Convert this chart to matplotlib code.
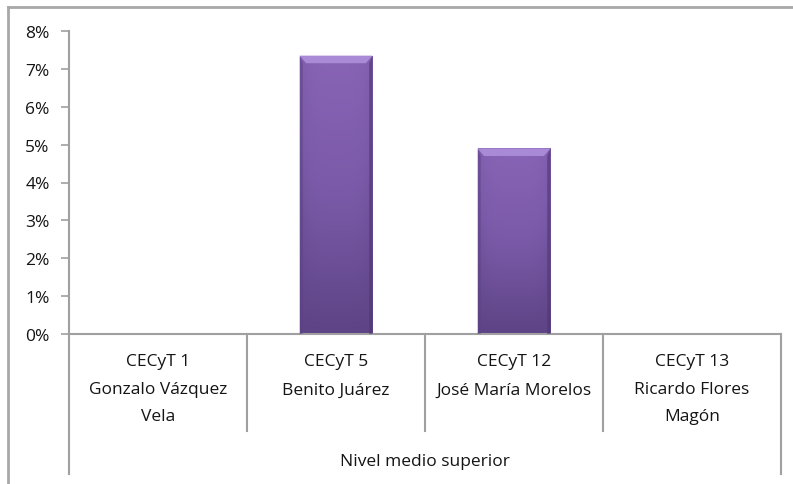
import numpy as np
import matplotlib.pyplot as plt
from matplotlib.colors import LinearSegmentedColormap
from matplotlib.lines import Line2D
from matplotlib.patches import Polygon
from matplotlib.ticker import FuncFormatter

plt.rcParams['font.family'] = ['Open Sans', 'DejaVu Sans']

# data
schools = ["CECyT 1\nGonzalo Vázquez\nVela",
           "CECyT 5\nBenito Juárez",
           "CECyT 12\nJosé María Morelos",
           "CECyT 13\nRicardo Flores\nMagón"]
values = [0.0, 7.35, 4.9, 0.0]
group_label = "Nivel medio superior"
y_ticks = [0, 1, 2, 3, 4, 5, 6, 7, 8]

axis_gray = "#a0a0a0"
text_col = "#141414"

fig = plt.figure(figsize=(7.93, 4.85), dpi=100)
ax = fig.add_axes([69 / 793, 1 - 335 / 485, 712 / 793, 303 / 485])

x = np.arange(len(schools))
bars = ax.bar(x, values, width=0.41, color="#74559f", edgecolor="#5a4280", linewidth=0.6)

# soft gradient + bevel to mimic the Excel bar style
shade = LinearSegmentedColormap.from_list("purp", ["#5e4486", "#7a5aa8", "#8964b6"])
grad = np.linspace(0, 1, 64).reshape(-1, 1)
side = 1 - 0.35 * np.abs(np.linspace(-1, 1, 40)) ** 4
img = grad * side.reshape(1, -1)
for b in bars:
    h = b.get_height()
    if h <= 0:
        continue
    x0, w = b.get_x(), b.get_width()
    im = ax.imshow(img, cmap=shade, vmin=0, vmax=1, origin="lower", aspect="auto",
                   extent=(x0, x0 + w, 0, h), zorder=2)
    im.set_clip_path(b)
    bev = 0.2
    dx = w * 0.09
    ax.add_patch(Polygon([(x0, h), (x0 + w, h), (x0 + w - dx, h - bev), (x0 + dx, h - bev)],
                         closed=True, facecolor="#a98ad6", edgecolor="none", zorder=3))
    ax.add_patch(Polygon([(x0, 0), (x0 + dx * 0.5, 0), (x0 + dx * 0.5, h - bev), (x0, h)],
                         closed=True, facecolor="#5b4283", edgecolor="none", alpha=0.5, zorder=3))
    ax.add_patch(Polygon([(x0 + w, 0), (x0 + w - dx * 0.5, 0), (x0 + w - dx * 0.5, h - bev), (x0 + w, h)],
                         closed=True, facecolor="#4d3772", edgecolor="none", alpha=0.6, zorder=3))

ax.set_xlim(-0.5, len(schools) - 0.5)
ax.set_ylim(0, 8)
ax.set_yticks(y_ticks)
ax.yaxis.set_major_formatter(FuncFormatter(lambda v, p: f"{v:.0f}%"))
ax.tick_params(axis="y", length=6, width=1.2, color=axis_gray, labelsize=12.5,
               labelcolor=text_col, pad=8)
ax.set_xticks([])

for s in ["top", "right"]:
    ax.spines[s].set_visible(False)
for s in ["left", "bottom"]:
    ax.spines[s].set_color(axis_gray)
    ax.spines[s].set_linewidth(1.5)

# category labels, each line placed like the Excel chart
line_y = [-0.089, -0.183, -0.272]
for i, name in enumerate(schools):
    for j, line in enumerate(name.split("\n")):
        ax.text(i, line_y[j], line, transform=ax.get_xaxis_transform(), ha="center",
                va="center", fontsize=12.5, color=text_col)

ax.text(0.5, -0.419, group_label, transform=ax.transAxes, ha="center", va="center",
        fontsize=12.5, color=text_col)

# divider lines below the axis
n = len(schools)
for k in range(n + 1):
    xa = k / n
    y_end = -0.462 if k in (0, n) else -0.32
    ax.add_line(Line2D([xa, xa], [0, y_end], transform=ax.transAxes, color=axis_gray,
                       lw=1.5, clip_on=False))

# outer chart border
fig.add_artist(Line2D([8 / 793, 1.0], [1 - 8 / 485, 1 - 8 / 485], transform=fig.transFigure,
                      color="#a8a8a8", lw=2))
fig.add_artist(Line2D([8 / 793, 8 / 793], [0, 1 - 8 / 485], transform=fig.transFigure,
                      color="#a8a8a8", lw=2))

fig.savefig("out.png", dpi=100)
